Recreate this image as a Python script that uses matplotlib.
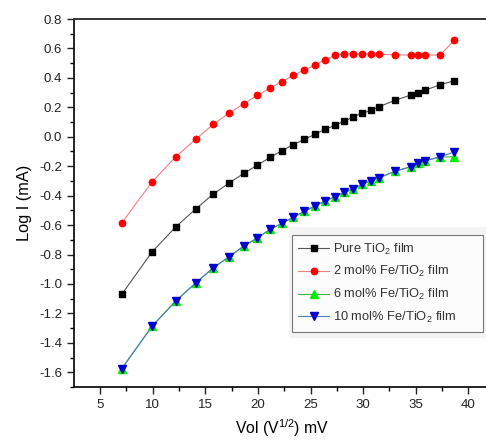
import numpy as np
import matplotlib
matplotlib.use('Agg')
import matplotlib.pyplot as plt
from matplotlib.patches import Rectangle
from matplotlib.ticker import MultipleLocator, FuncFormatter

plt.rcParams['font.family'] = ['Liberation Sans', 'DejaVu Sans']
plt.rcParams['mathtext.fontset'] = 'custom'
plt.rcParams['mathtext.rm'] = 'Liberation Sans'
plt.rcParams['mathtext.it'] = 'Liberation Sans:italic'
plt.rcParams['mathtext.bf'] = 'Liberation Sans:bold'

# sqrt of applied voltage
vol = [7.07, 9.95, 12.2, 14.1, 15.75, 17.25, 18.65, 19.95, 21.15, 22.3,
       23.35, 24.4, 25.4, 26.35, 27.3, 28.2, 29.05, 29.85, 30.7, 31.5,
       33.0, 34.5, 35.2, 35.9, 37.3, 38.65]

pure = [-1.07, -0.782, -0.612, -0.49, -0.39, -0.315, -0.249, -0.193, -0.14, -0.094,
        -0.054, -0.018, 0.016, 0.05, 0.077, 0.107, 0.134, 0.159, 0.179, 0.204,
        0.247, 0.283, 0.299, 0.317, 0.353, 0.381]
fe2 = [-0.585, -0.306, -0.136, -0.016, 0.084, 0.159, 0.224, 0.281, 0.331, 0.375,
       0.417, 0.453, 0.487, 0.523, 0.553, 0.562, 0.562, 0.562, 0.562, 0.56,
       0.557, 0.555, 0.555, 0.555, 0.555, 0.655]
fe6 = [-1.575, -1.287, -1.115, -0.993, -0.891, -0.816, -0.743, -0.687, -0.630, -0.587,
       -0.548, -0.507, -0.471, -0.437, -0.408, -0.378, -0.354, -0.324, -0.301, -0.279,
       -0.235, -0.204, -0.181, -0.163, -0.138, -0.136]
fe10 = [-1.575, -1.287, -1.115, -0.993, -0.891, -0.816, -0.743, -0.687, -0.630, -0.587,
        -0.548, -0.507, -0.471, -0.437, -0.408, -0.378, -0.354, -0.324, -0.301, -0.279,
        -0.235, -0.204, -0.181, -0.163, -0.136, -0.104]

labels = ['Pure TiO$_2$ film', '2 mol% Fe/TiO$_2$ film',
          '6 mol% Fe/TiO$_2$ film', '10 mol% Fe/TiO$_2$ film']

fig = plt.figure(figsize=(4.86, 4.43), dpi=100)
ax = fig.add_axes([74/486, 56/443, 415.5/486, 368/443])

ax.plot(vol, pure, color='#555555', lw=0.8, marker='s', ms=4.0,
        mfc='black', mec='black', label=labels[0])
ax.plot(vol, fe2, color='#f08080', lw=0.8, marker='o', ms=4.6,
        mfc='#ff0000', mec='#ff0000', label=labels[1])
ax.plot(vol, fe6, color='#40b040', lw=0.8, marker='^', ms=5.2,
        mfc='#00ee00', mec='#00ee00', label=labels[2])
ax.plot(vol, fe10, color='#4a7fc0', lw=0.8, marker='v', ms=5.2,
        mfc='#0000cc', mec='#0000cc', label=labels[3])

ax.set_xlim(2.53, 42)
ax.set_ylim(-1.7, 0.8)
ax.xaxis.set_major_locator(MultipleLocator(5))
ax.xaxis.set_minor_locator(MultipleLocator(2.5))
ax.yaxis.set_major_locator(MultipleLocator(0.2))
ax.yaxis.set_minor_locator(MultipleLocator(0.1))
ax.tick_params(which='major', direction='out', length=5, width=1, labelsize=9.5, colors='#222222')
ax.tick_params(which='minor', direction='out', length=3, width=1)
ax.set_xticks([5, 10, 15, 20, 25, 30, 35, 40])
ax.set_yticks(np.arange(-1.6, 0.81, 0.2))
ax.yaxis.set_major_formatter(FuncFormatter(lambda v, p: '%.1f' % (round(v, 1) + 0.0)))

for s in ['left', 'bottom']:
    ax.spines[s].set_linewidth(1.2)
ax.spines['top'].set_linewidth(1.4)
ax.spines['top'].set_color('#333333')
ax.spines['right'].set_visible(False)

ax.set_xlabel('Vol (V$^{1/2}$) mV', fontsize=11.3, labelpad=5)
ax.set_ylabel('Log I (mA)', fontsize=11.8, labelpad=5)

# faint shading around the legend
fig.patches.append(Rectangle((289/486, (443-338)/443), 197/486, 111/443,
                             transform=fig.transFigure, facecolor='#f4f4f4',
                             edgecolor='none', zorder=2))

leg = fig.legend(loc='upper left', bbox_to_anchor=(291.7/486, (443-330)/443, 191/486, 95/443),
                 mode='expand', borderaxespad=0, fontsize=9.3, handlelength=2.4,
                 handletextpad=0.3, labelspacing=0.6, borderpad=0.5,
                 fancybox=False, frameon=True)
leg.get_frame().set_edgecolor('#555555')
leg.get_frame().set_linewidth(0.8)
leg.set_zorder(3)
for t in leg.get_texts():
    t.set_color('#333333')

fig.savefig('out.png', dpi=100)
